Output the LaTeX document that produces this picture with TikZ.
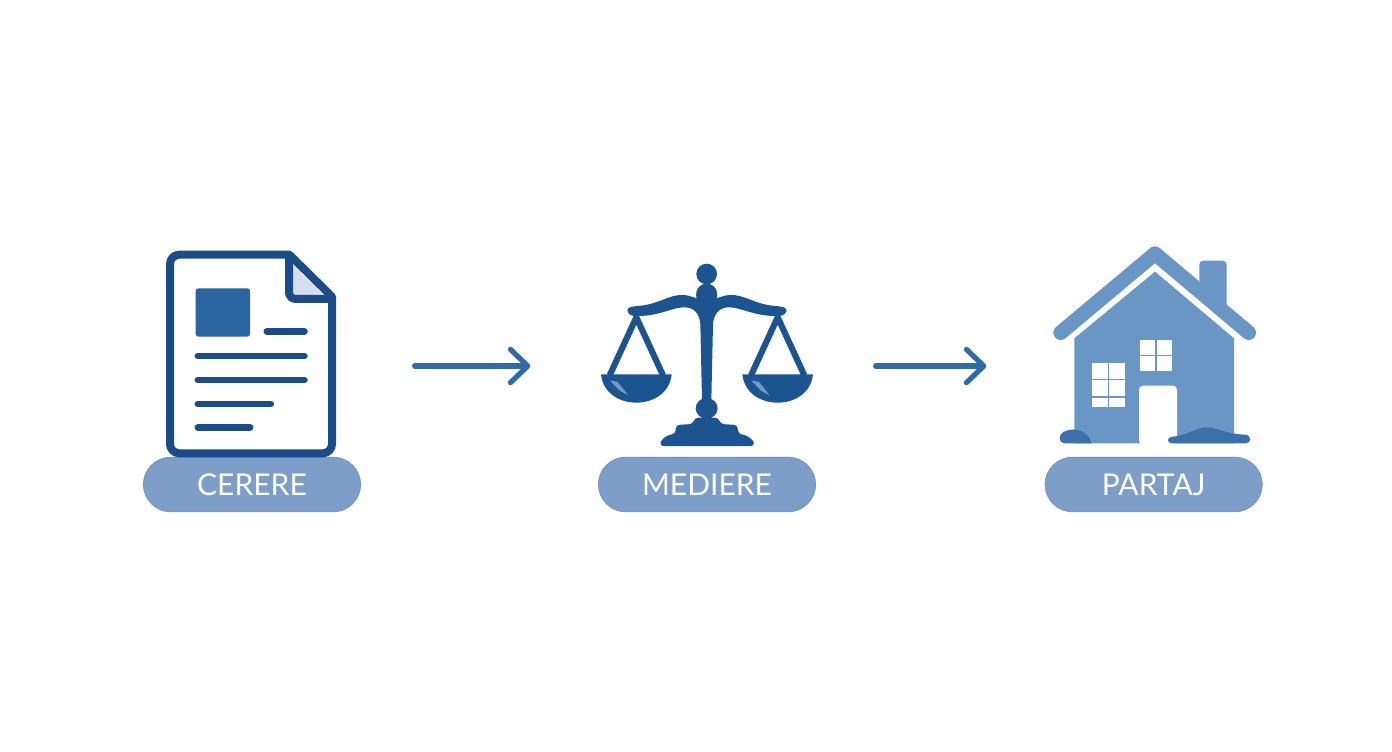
\documentclass[tikz,border=0pt]{standalone}
\usepackage{fontspec}
\setmainfont{Lato}
\usetikzlibrary{positioning}
\usetikzlibrary{arrows.meta}
\definecolor{docblue}{HTML}{1B4C87}
\definecolor{squareblue}{HTML}{2B659F}
\definecolor{foldgrey}{HTML}{D5DEEA}
\definecolor{scaleblue}{HTML}{1C5490}
\definecolor{glintblue}{HTML}{6F9BC9}
\definecolor{houseblue}{HTML}{6A96C5}
\definecolor{bushblue}{HTML}{3C70A9}
\definecolor{arrowblue}{HTML}{2F6BA6}
\definecolor{pillblue}{HTML}{7C9EC9}
\definecolor{pilledge}{HTML}{7090BC}
\tikzset{
  pill/.style={rectangle,rounded corners=20.6pt,fill=pillblue,draw=pilledge,line width=0.5pt,
    minimum width=163pt,minimum height=41pt,inner sep=0pt,text=white,text height=16.5pt,text depth=0pt,
    font=\fontsize{22.5}{24}\selectfont},
  iconbox/.style={rectangle,inner sep=0pt,outer sep=0pt,minimum height=154pt},
  stepline/.style={arrowblue,line width=3.9pt,line cap=round,-{Straight Barb[length=13pt,width=25pt,round]}},
  zoomed/.style={x=0.25pt,y=-0.25pt},
}
\begin{document}
\begin{tikzpicture}[x=0.75pt,y=-0.75pt]
\useasboundingbox (0,0) rectangle (1392,752);

\node[pill] (cerere) at (252,484.5) {CERERE};
\node[pill,right=177.75pt of cerere] (mediere) {MEDIERE};
\node[pill,right=171.5pt of mediere] (partaj) {PARTAJ};

\node[iconbox,minimum width=127.5pt] (doc) at (251,366) {};
\node[iconbox,minimum width=159pt] (scales) at (707,366) {};
\node[iconbox,minimum width=151.5pt] (house) at (1154,366) {};

% document
\begin{scope}[shift={(130,230)},zoomed]
\draw[docblue,line width=6pt,fill=white,line join=round]
  (300,74) -- (478,74) -- (606,200) [rounded corners=7pt] -- (606,670) -- (120,670) -- (120,74) -- cycle;
\fill[foldgrey] (487,105) -- (582,195) -- (487,195) -- cycle;
\draw[docblue,line width=6pt,line cap=round,rounded corners=5pt] (477,80) -- (477,207) -- (600,207);
\fill[squareblue,rounded corners=2pt] (197,175) rectangle (360,320);
\draw[docblue,line width=5.2pt,line cap=round] (411,304) -- (523,304);
\draw[docblue,line width=5.2pt,line cap=round] (204,378) -- (523,378);
\draw[docblue,line width=5.2pt,line cap=round] (204,450) -- (523,450);
\draw[docblue,line width=5.2pt,line cap=round] (204,522) -- (422,522);
\draw[docblue,line width=5.2pt,line cap=round] (204,593) -- (360,593);
\end{scope}

% scales
\begin{scope}[shift={(590,250)},zoomed]
\fill[scaleblue] (350,72) circle[radius=31];
\fill[scaleblue] (350,100) .. controls (312,105) and (312,145) .. (330,165) -- (370,165)
  .. controls (388,145) and (388,105) .. (350,100) -- cycle;
% beam
\fill[scaleblue] (112,182) .. controls (114,168) and (125,172) .. (140,168)
  .. controls (205,165) and (235,133) .. (280,135)
  .. controls (305,136) and (325,150) .. (350,152)
  .. controls (375,150) and (395,136) .. (420,135)
  .. controls (465,133) and (495,165) .. (560,168)
  .. controls (575,172) and (586,168) .. (590,182)
  .. controls (585,199) and (570,198) .. (555,198)
  .. controls (490,198) and (450,170) .. (412,172)
  .. controls (385,174) and (371,195) .. (369,222)
  -- (364,450) -- (336,450) -- (331,222)
  .. controls (329,195) and (315,174) .. (288,172)
  .. controls (250,170) and (210,198) .. (145,198)
  .. controls (130,198) and (117,199) .. (112,182) -- cycle;
\fill[scaleblue] (350,475) ellipse[x radius=33,y radius=31];
\fill[scaleblue,rounded corners=2.5pt] (210,588) .. controls (213,570) and (228,555) .. (256,552) -- (258,525)
  -- (308,522) -- (315,503) -- (385,503) -- (392,522) -- (442,525) -- (445,552)
  .. controls (473,555) and (490,570) .. (493,588) -- cycle;
% pans
\foreach \panx in {139,563} {
  \draw[scaleblue,line width=4.6pt,line join=round] (\panx-80,376) -- (\panx,202) -- (\panx+80,376);
  \fill[scaleblue] (\panx-106,373) -- (\panx+106,373)
    .. controls (\panx+100,430) and (\panx+50,458) .. (\panx,458)
    .. controls (\panx-50,458) and (\panx-100,430) .. (\panx-106,373) -- cycle;
  \fill[glintblue] (\panx-79,392) -- (\panx-57,395) -- (\panx-24,436) -- (\panx-50,422) -- cycle;
}
\end{scope}

% house
\begin{scope}[shift={(1030,230)},zoomed]
\fill[houseblue,rounded corners=3pt] (508,190) -- (508,92) -- (590,92) -- (590,240) -- cycle;
\draw[houseblue,line width=11pt,line cap=round,line join=round] (92,308) -- (375,71) -- (656,308);
\fill[houseblue] (133,325) -- (375,125) -- (612,325) -- (612,640) -- (133,640) -- cycle;
\fill[white,rounded corners=3pt] (327,644) -- (327,467) -- (441,467) -- (441,644) -- cycle;
\fill[white] (330,330) rectangle (426,423);
\fill[white] (186,398) rectangle (284,532);
\draw[houseblue,line width=1.2pt] (378,330) -- (378,423);
\draw[houseblue,line width=1.2pt] (330,376) -- (426,376);
\draw[houseblue,line width=1.2pt] (235,398) -- (235,532);
\draw[houseblue,line width=1.2pt] (186,448) -- (284,448);
\draw[houseblue,line width=1.2pt] (186,501) -- (284,501);
% bushes
\fill[bushblue] (102,640) .. controls (85,638) and (85,615) .. (100,606)
  .. controls (130,590) and (175,600) .. (185,640) -- cycle;
\fill[bushblue] (425,640) .. controls (410,640) and (410,620) .. (428,620)
  .. controls (470,618) and (500,590) .. (535,592)
  .. controls (565,595) and (590,612) .. (645,614)
  .. controls (665,615) and (665,640) .. (648,640) -- cycle;
\end{scope}

\draw[stepline,shorten <=59pt,shorten >=53pt] (doc.east) -- (scales.west);
\draw[stepline,shorten <=47pt,shorten >=50pt] (scales.east) -- (house.west);

\end{tikzpicture}
\end{document}
